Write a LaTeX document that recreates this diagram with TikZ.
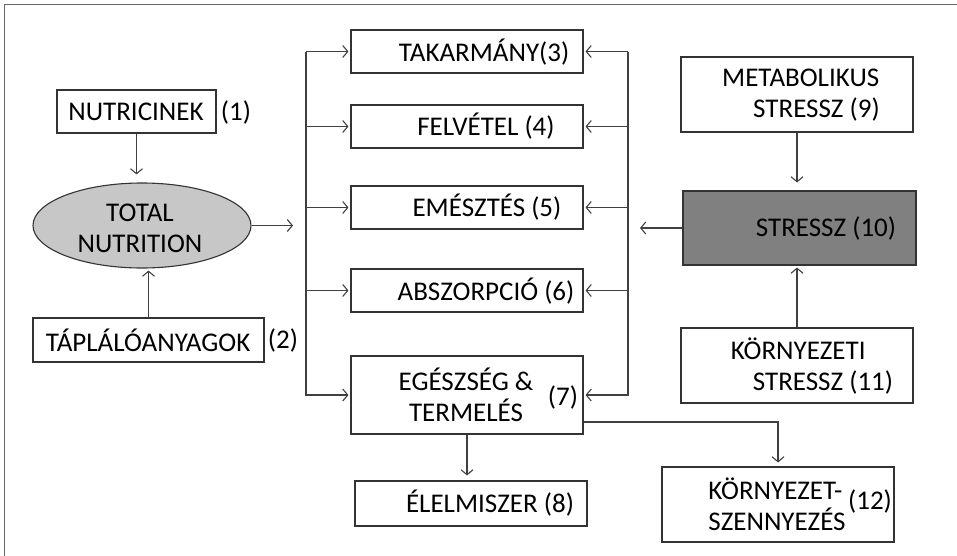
\documentclass[tikz,border=0pt]{standalone}
\usepackage{fontspec}
\setmainfont{Carlito}
\usetikzlibrary{arrows.meta,shapes.geometric,positioning}

\tikzset{
  box/.style={draw=black!80, line width=1.1pt, rectangle, minimum width=232pt, minimum height=43pt, inner sep=0pt},
  txt/.style={font=\fontsize{27}{31}\selectfont, inner sep=0pt, align=center, text=black},
  arr/.style={-{Straight Barb[length=5pt,width=12pt]}, draw=black!75, line width=1.1pt, shorten >=2pt},
  ln/.style={draw=black!75, line width=1.1pt},
}

\begin{document}
\begin{tikzpicture}[x=1pt, y=-1pt]
  \useasboundingbox (0,0) rectangle (957,556);
  \draw[black!60, line width=1.5pt] (4.5,556) -- (4.5,4.5) -- (957,4.5);

  % inputs
  \node[box, minimum width=159pt] (nutr) at (136.5,111.5) {};
  \node[ellipse, draw=black!80, line width=1.1pt, fill=black!22, minimum width=218pt, minimum height=85pt] (total) at (142,225.5) {};
  \node[box, minimum width=231pt, minimum height=44pt] (tapl) at (148.5,340) {};
  \node[txt] (nutr-t) at (136,112) {NUTRICINEK};
  \node[txt] (nutr-n) at (236,112) {(1)};
  \node[txt] (total-t) at (140,228) {TOTAL\\NUTRITION};
  \node[txt] (tapl-t) at (148,340) {TÁPLÁLÓANYAGOK};
  \node[txt] (tapl-n) at (283,340) {(2)};

  % middle column
  \node[box] (tak) at (467,51.5) {};
  \node[box] (felv) at (467,126.5) {};
  \node[box] (emesz) at (467,207.5) {};
  \node[box] (absz) at (467,290.5) {};
  \node[box, minimum height=78pt] (egesz) at (467,395) {};
  \node[box, minimum width=232pt, minimum height=45pt] (elel) at (471,503.5) {};
  \node[txt] (tak-t) at (484,52) {TAKARMÁNY(3)};
  \node[txt] (felv-t) at (486,126) {FELVÉTEL (4)};
  \node[txt] (emesz-t) at (487,207) {EMÉSZTÉS (5)};
  \node[txt] (absz-t) at (486,291) {ABSZORPCIÓ (6)};
  \node[txt] (egesz-t) at (466,395) {EGÉSZSÉG \&\\TERMELÉS};
  \node[txt] (egesz-n) at (563,397) {(7)};
  \node[txt] (elel-t) at (490,503) {ÉLELMISZER (8)};

  % stress column
  \node[box, minimum height=75pt] (metab) at (797,94.5) {};
  \node[box, minimum width=233pt, minimum height=74pt, fill=black!50] (stressz) at (799.5,228) {};
  \node[box, minimum height=75pt] (korny) at (797,365.5) {};
  \node[box, minimum width=232pt, minimum height=75pt] (szenny) at (778,504.5) {};
  \node[txt, align=left] (metab-t) at (801,95) {METABOLIKUS\\\hspace*{31pt}STRESSZ (9)};
  \node[txt] (stressz-t) at (826,228) {STRESSZ (10)};
  \node[txt, align=left] (korny-t) at (812,366) {KÖRNYEZETI\\\hspace*{22pt}STRESSZ (11)};
  \node[txt, align=left] (szenny-t) at (777,504) {KÖRNYEZET-\\SZENNYEZÉS};
  \node[txt] (szenny-n) at (870,501) {(12)};

  % buses
  \coordinate (lbus-a) at (306,52);
  \coordinate (lbus-b) at (306,396);
  \coordinate (rbus-a) at (628,52);
  \coordinate (rbus-b) at (628,396);
  \draw[ln] (lbus-a) -- (lbus-b);
  \draw[ln] (rbus-a) -- (rbus-b);
  \foreach \n in {tak,felv,emesz,absz,egesz} {
    \draw[arr] (lbus-a |- \n) -- (\n);
    \draw[arr] (rbus-a |- \n) -- (\n);
  }

  % connectors
  \draw[arr, shorten >=8pt] (nutr.south) -- (nutr.south |- total.north);
  \draw[arr] (tapl.north) -- (tapl.north |- total.south);
  \draw[arr, shorten >=13pt] (total) -- (total -| lbus-a);
  \draw[arr, shorten >=12pt] (stressz) -- (stressz -| rbus-a);
  \draw[arr, shorten >=8pt] (metab.south) -- (metab.south |- stressz.north);
  \draw[arr] (korny.north) -- (korny.north |- stressz.south);
  \draw[arr, shorten >=5pt] (egesz.south) -- (egesz.south |- elel.north);
  \draw[arr, shorten >=4pt] ([yshift=-27pt]egesz.east) -| (szenny.north);
\end{tikzpicture}
\end{document}
